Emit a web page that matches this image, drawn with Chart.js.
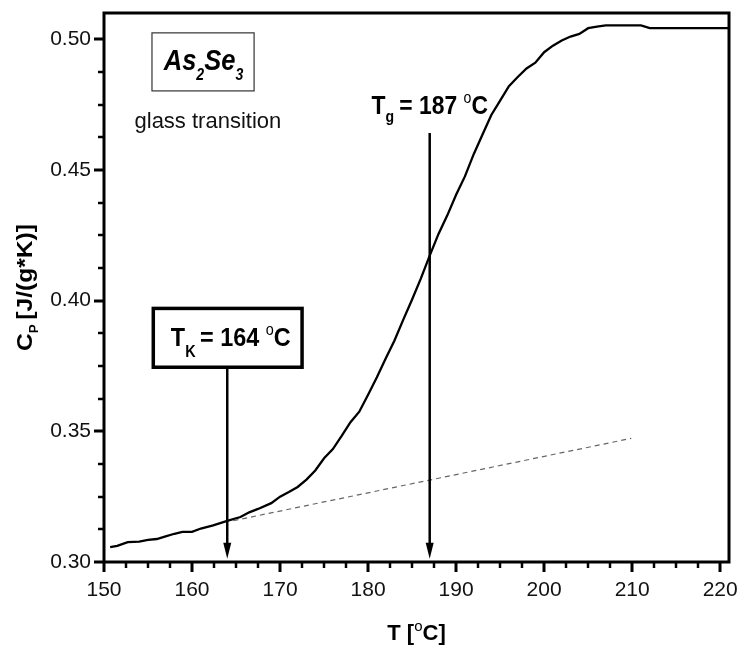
<!DOCTYPE html>
<html><head><meta charset="utf-8">
<script src="https://cdn.jsdelivr.net/npm/chart.js@4/dist/chart.umd.min.js"></script>
<style>html,body{margin:0;padding:0;background:#fff;}canvas{display:block;}</style>
</head><body>
<canvas id="c" width="741" height="647"></canvas>
<script>
// ---- data ----
const tempC = [150.7,151.5,152.7,154,155,156,157,158,158.9,160,161,162.4,164,165.5,166.5,167.5,169,170,171,172,173,174,175,176,177,178,179,180,181,182,183,184,185,186,187,188,189,190,191,192,193,194,195,196,197,198,199,200,201,202,203,204,205,206,207,211,212,221];
const cpValues = [0.3057,0.3062,0.3076,0.3078,0.3085,0.3088,0.3098,0.3108,0.3115,0.3115,0.3128,0.3140,0.3157,0.3172,0.3190,0.3203,0.3225,0.3250,0.3268,0.3287,0.3315,0.3350,0.3397,0.3432,0.3482,0.3535,0.3575,0.3640,0.3707,0.3778,0.3847,0.3927,0.4004,0.4085,0.4172,0.4255,0.4326,0.4405,0.4475,0.4560,0.4635,0.4710,0.4765,0.4820,0.4855,0.4888,0.4910,0.4950,0.4975,0.4995,0.5010,0.5020,0.5042,0.5048,0.5053,0.5053,0.5042,0.5042];
const baselineT = [164.7, 209.9];
const baselineCp = [0.3158, 0.3473];
const xTickLabels = [150,160,170,180,190,200,210,220];
const yTickLabels = [0.30,0.35,0.40,0.45,0.50];
const tK = 164, tG = 187;

// ---- annotation anchors (data units) ----
const ann = {
  sampleBox: {x0:155.45, x1:167.05, y0:0.5024, y1:0.4802, tx:161.3, ty:0.4882},
  glass: {tx:161.8, ty:0.4660},
  tkBox: {x0:155.6, x1:172.5, y0:0.3970, y1:0.3745, tx:164.4, ty:0.3825},
  tgLabel: {tx:187.0, ty:0.4712, arrowTop:0.4641},
  arrowTip: 0.3012
};

const FONT = "'Liberation Sans', Arial, Helvetica, sans-serif";

function drawRich(ctx, segs, x, y, align, sx, rot) {
  ctx.save();
  ctx.translate(x, y);
  if (rot) ctx.rotate(rot);
  ctx.scale(sx, 1);
  ctx.textBaseline = 'alphabetic';
  ctx.textAlign = 'left';
  let w = 0;
  const ws = segs.map(s => { ctx.font = s.f; const m = ctx.measureText(s.t).width; w += m + (s.gap||0); return m; });
  let cx = align === 'center' ? -w/2 : (align === 'right' ? -w : 0);
  segs.forEach((s, i) => {
    ctx.font = s.f; ctx.fillStyle = s.c || '#000';
    ctx.fillText(s.t, cx, s.dy || 0);
    cx += ws[i] + (s.gap||0);
  });
  ctx.restore();
}

const overlay = {
  id: 'overlay',
  afterDraw(chart) {
    const {ctx, chartArea: a, scales: {x, y}} = chart;
    ctx.save();
    // frame
    ctx.strokeStyle = '#000'; ctx.lineWidth = 3;
    ctx.strokeRect(a.left, a.top, a.right - a.left, a.bottom - a.top);
    // ticks
    ctx.lineCap = 'butt';
    const xMin = x.min, xMax = x.max, yMin = y.min, yMax = y.max;
    for (let i = 0; ; i++) {
      const v = xMin + i * 2.5; if (v > xMax + 1e-9) break;
      const major = xTickLabels.some(t => Math.abs(t - v) < 1e-6);
      const px = Math.round(x.getPixelForValue(v));
      ctx.lineWidth = major ? 3 : 2.5;
      ctx.beginPath(); ctx.moveTo(px, a.bottom); ctx.lineTo(px, a.bottom + (major ? 10 : 6)); ctx.stroke();
    }
    for (let i = 0; ; i++) {
      const v = yMin + i * 0.0125; if (v > yMax + 1e-9) break;
      const major = yTickLabels.some(t => Math.abs(t - v) < 1e-6);
      const py = Math.round(y.getPixelForValue(v));
      ctx.lineWidth = major ? 3 : 2.5;
      ctx.beginPath(); ctx.moveTo(a.left, py); ctx.lineTo(a.left - (major ? 10 : 6), py); ctx.stroke();
    }
    // arrows
    const arrow = (tx, yTop) => {
      const px = x.getPixelForValue(tx);
      const top = y.getPixelForValue(yTop), tip = y.getPixelForValue(ann.arrowTip);
      ctx.lineWidth = 2.5; ctx.strokeStyle = '#000';
      ctx.beginPath(); ctx.moveTo(px, top); ctx.lineTo(px, tip - 12); ctx.stroke();
      ctx.fillStyle = '#000';
      ctx.beginPath(); ctx.moveTo(px - 4, tip - 16); ctx.lineTo(px + 4, tip - 16); ctx.lineTo(px, tip); ctx.closePath(); ctx.fill();
    };
    arrow(tK, ann.tkBox.y1);
    arrow(tG, ann.tgLabel.arrowTop);
    // sample box
    const sb = ann.sampleBox;
    ctx.lineWidth = 1.2; ctx.strokeStyle = '#333';
    let bx0 = x.getPixelForValue(sb.x0), bx1 = x.getPixelForValue(sb.x1), by0 = y.getPixelForValue(sb.y0), by1 = y.getPixelForValue(sb.y1);
    ctx.strokeRect(bx0, by0, bx1 - bx0, by1 - by0);
    const bi = "italic bold 29px " + FONT, si = "italic bold 16px " + FONT;
    drawRich(ctx, [
      {t:'As', f:bi}, {t:'2', f:si, dy:10}, {t:'Se', f:bi}, {t:'3', f:si, dy:10}
    ], x.getPixelForValue(sb.tx), y.getPixelForValue(sb.ty), 'center', 0.88);
    // glass transition
    drawRich(ctx, [{t:'glass transition', f:"22px " + FONT, c:'#111'}],
      x.getPixelForValue(ann.glass.tx), y.getPixelForValue(ann.glass.ty), 'center', 1.0);
    // Tk box
    const tb = ann.tkBox;
    bx0 = x.getPixelForValue(tb.x0); bx1 = x.getPixelForValue(tb.x1); by0 = y.getPixelForValue(tb.y0); by1 = y.getPixelForValue(tb.y1);
    ctx.fillStyle = '#fff'; ctx.fillRect(bx0, by0, bx1 - bx0, by1 - by0);
    ctx.lineWidth = 3.5; ctx.strokeStyle = '#000';
    ctx.strokeRect(bx0, by0, bx1 - bx0, by1 - by0);
    const B = "bold 26px " + FONT, Bs = "bold 16px " + FONT, deg = "16px " + FONT;
    drawRich(ctx, [
      {t:'T', f:B}, {t:'K', f:Bs, dy:11, gap:5}, {t:'= 164 ', f:B}, {t:'o', f:deg, dy:-11}, {t:'C', f:B}
    ], x.getPixelForValue(tb.tx), y.getPixelForValue(tb.ty), 'center', 0.9);
    // Tg label
    const tg = ann.tgLabel;
    drawRich(ctx, [
      {t:'T', f:B}, {t:'g', f:Bs, dy:8, gap:6}, {t:'= 187 ', f:B}, {t:'o', f:deg, dy:-11}, {t:'C', f:B}
    ], x.getPixelForValue(tg.tx), y.getPixelForValue(tg.ty), 'center', 0.88);
    // axis titles
    const T = "bold 22px " + FONT;
    drawRich(ctx, [{t:'T [', f:T}, {t:'o', f:"15px " + FONT, dy:-9}, {t:'C]', f:T}],
      (a.left + a.right) / 2, 640, 'center', 1.0);
    drawRich(ctx, [{t:'C', f:T}, {t:'P', f:"bold 12px " + FONT, dy:6, gap:4}, {t:'[J/(g*K)]', f:T}],
      32, (a.top + a.bottom) / 2, 'center', 1.12, -Math.PI / 2);
    ctx.restore();
  }
};

const curve = tempC.map((t, i) => ({x: t, y: cpValues[i]}));
const base = baselineT.map((t, i) => ({x: t, y: baselineCp[i]}));

new Chart(document.getElementById('c'), {
  type: 'line',
  data: { datasets: [
    { data: base, borderColor: '#666', borderWidth: 1.2, borderDash: [5, 4], pointRadius: 0, tension: 0, fill: false },
    { data: curve, borderColor: '#000', borderWidth: 2.3, pointRadius: 0, tension: 0, fill: false }
  ]},
  options: {
    responsive: false, animation: false, devicePixelRatio: 1,
    layout: { padding: { top: 13, right: 12, left: 0, bottom: 0 } },
    plugins: { legend: { display: false }, tooltip: { enabled: false } },
    scales: {
      x: {
        type: 'linear', min: 150, max: 221,
        afterFit: s => { s.height = 85; s.paddingLeft = 0; s.paddingRight = 0; },
        afterBuildTicks: s => { s.ticks = xTickLabels.map(v => ({value: v})); },
        grid: { display: false, drawTicks: false },
        border: { display: false },
        ticks: { font: { family: FONT, size: 21 }, color: '#111', padding: 16, maxRotation: 0, autoSkip: false,
                 callback: v => String(v) }
      },
      y: {
        type: 'linear', min: 0.30, max: 0.51,
        afterFit: s => { s.width = 104; s.paddingTop = 0; s.paddingBottom = 0; },
        afterBuildTicks: s => { s.ticks = yTickLabels.map(v => ({value: v})); },
        grid: { display: false, drawTicks: false },
        border: { display: false },
        ticks: { font: { family: FONT, size: 21 }, color: '#111', padding: 13, autoSkip: false,
                 callback: v => Number(v).toFixed(2) }
      }
    }
  },
  plugins: [overlay]
});
</script>
</body></html>
